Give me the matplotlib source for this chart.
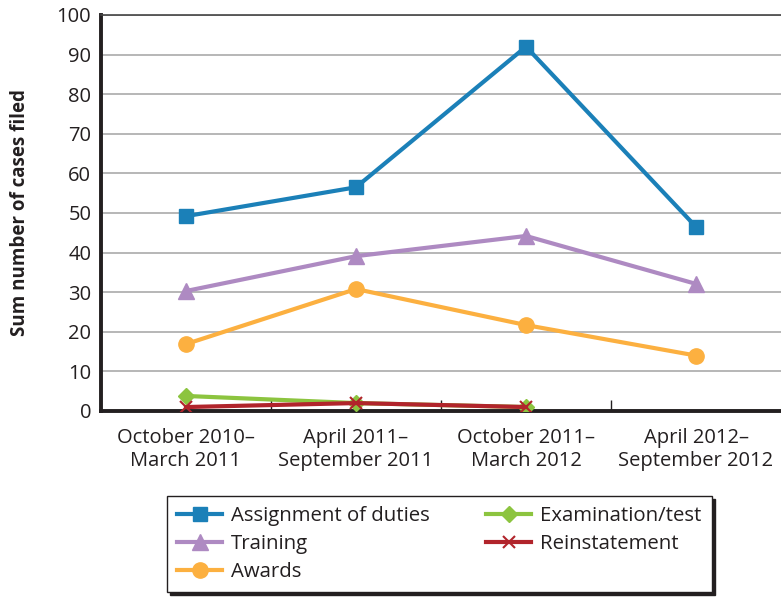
import matplotlib
matplotlib.use("Agg")
import matplotlib.pyplot as plt
import numpy as np

plt.rcParams['font.family'] = ['Open Sans', 'DejaVu Sans']

categories = ["October 2010–\nMarch 2011", "April 2011–\nSeptember 2011",
              "October 2011–\nMarch 2012", "April 2012–\nSeptember 2012"]
assignment = [49.2, 56.5, 92.0, 46.5]
training = [30.3, 39.1, 44.2, 32.1]
awards = [16.9, 30.8, 21.7, 14.0]
exam = [3.8, 2.0, 1.0]
reinstatement = [1.0, 2.0, 1.0]

fig = plt.figure(figsize=(7.81, 6.0), dpi=100)
ax = fig.add_axes([101/781, 189/600, 1 - 101/781, (411-15)/600])

x = np.arange(len(categories))
lw = 3.0
ax.plot(x, assignment, color='#1b80b8', lw=lw, marker='s', ms=10, label='Assignment of duties', zorder=5)
ax.plot(x, training, color='#ae8ac2', lw=lw, marker='^', ms=11, label='Training', zorder=4)
ax.plot(x, awards, color='#fcb040', lw=lw, marker='o', ms=11, label='Awards', zorder=4)
ax.plot(x[:3], exam, color='#8cc43f', lw=lw, marker='D', ms=8.5, label='Examination/test', zorder=3)
ax.plot(x[:3], reinstatement, color='#b1242b', lw=lw, marker='x', ms=9, mew=1.5, label='Reinstatement', zorder=3)

ax.set_xlim(-0.5, 3.5)
ax.set_ylim(0, 100)
ax.set_yticks(np.arange(0, 101, 10))
ax.yaxis.grid(True, color='#aaaaaa', lw=1.2)
ax.set_axisbelow(True)
ax.tick_params(axis='y', length=0, labelsize=14.5, pad=7, colors='#231f20')
ax.set_xticks(x)
ax.set_xticklabels(categories)
ax.tick_params(axis='x', which='major', length=0, labelsize=14.5, pad=12, colors='#231f20')
ax.set_xticks([0.5, 1.5, 2.5], minor=True)
ax.tick_params(axis='x', which='minor', direction='in', length=8, width=1, color='#231f20')

for s in ['left', 'bottom']:
    ax.spines[s].set_linewidth(2.8)
    ax.spines[s].set_color('#231f20')
ax.spines['top'].set_linewidth(1.2)
ax.spines['top'].set_color('#444444')
ax.spines['right'].set_visible(False)

ax.set_ylabel('Sum number of cases filed', fontsize=13.5, fontweight='bold', color='#231f20', labelpad=19)

leg = fig.legend(loc='lower left', bbox_to_anchor=(167/781, 8/600, (712-167)/781, 102/600),
                 mode='expand', ncol=2, fontsize=14.7, frameon=True, fancybox=False,
                 shadow={'color': '#231f20', 'alpha': 1}, handlelength=2.2, handletextpad=0.45,
                 borderaxespad=0, labelspacing=0.38, columnspacing=1.5, borderpad=0.5)
leg.get_frame().set_edgecolor('#231f20')
leg.get_frame().set_linewidth(1)
for t in leg.get_texts():
    t.set_color('#231f20')

fig.savefig('out.png', dpi=100)
